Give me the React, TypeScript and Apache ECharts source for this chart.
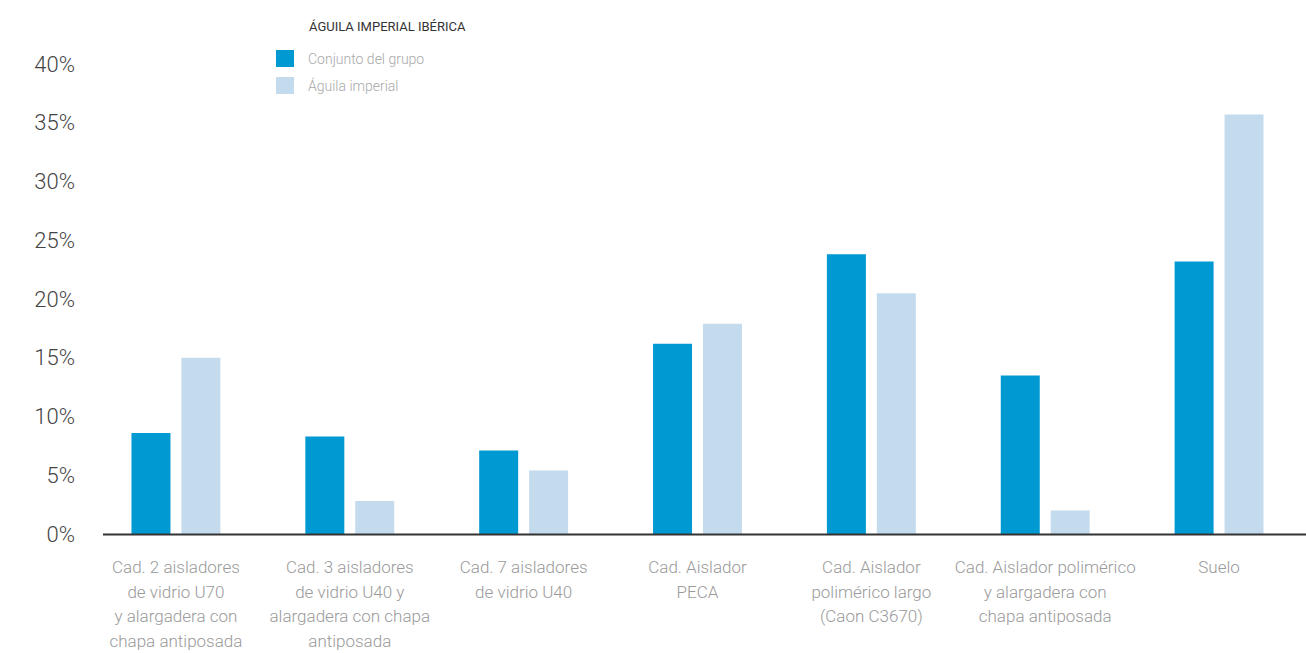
import React, { useEffect, useRef } from "react";
import * as echarts from "echarts";

const categories = [
  "Cad. 2 aisladores\nde vidrio U70\ny alargadera con\nchapa antiposada",
  "Cad. 3 aisladores\nde vidrio U40 y\nalargadera con chapa\nantiposada",
  "Cad. 7 aisladores\nde vidrio U40",
  "Cad. Aislador\nPECA",
  "Cad. Aislador\npolimérico largo\n(Caon C3670)",
  "Cad. Aislador polimérico\ny alargadera con\nchapa antiposada",
  "Suelo",
];
const seriesNames = ["Conjunto del grupo", "Águila imperial"];
const conjuntoValues = [8.6, 8.3, 7.1, 16.2, 23.8, 13.5, 23.2];
const aguilaValues = [15.0, 2.8, 5.4, 17.9, 20.5, 2.0, 35.7];
const legendTitle = "ÁGUILA IMPERIAL IBÉRICA";

const FONT = "Roboto";

export default function App() {
  const ref = useRef<HTMLDivElement>(null);
  useEffect(() => {
    if (!ref.current) return;
    const chart = echarts.init(ref.current, null, { renderer: "svg" });
    chart.setOption({
      animation: false,
      backgroundColor: "#ffffff",
      textStyle: { fontFamily: FONT },
      title: {
        text: legendTitle,
        left: 304,
        top: 15,
        textStyle: { fontFamily: FONT, fontSize: 13, fontWeight: 400, color: "#333333" },
      },
      legend: {
        orient: "vertical",
        left: 276,
        top: 50,
        padding: 0,
        itemWidth: 18,
        itemHeight: 17,
        itemGap: 10,
        icon: "rect",
        data: seriesNames,
        textStyle: {
          fontFamily: FONT,
          fontSize: 14,
          fontWeight: 300,
          color: "#a8a8a8",
          padding: [0, 0, 0, 9],
        },
      },
      grid: { left: 89, width: 1220, top: 64, bottom: 117, containLabel: false },
      xAxis: {
        type: "category",
        data: categories,
        axisLine: { show: false },
        axisTick: { show: false },
        axisLabel: {
          interval: 0,
          margin: 21,
          fontFamily: FONT,
          fontSize: 17,
          fontWeight: 300,
          lineHeight: 24.5,
          color: "#9a9a9a",
          align: "center",
          verticalAlign: "top",
        },
      },
      yAxis: {
        type: "value",
        min: 0,
        max: 40,
        interval: 5,
        axisLine: { show: false },
        axisTick: { show: false },
        splitLine: { show: false },
        axisLabel: {
          formatter: "{value}%",
          margin: 14,
          fontFamily: FONT,
          fontSize: 22,
          fontWeight: 300,
          color: "#444444",
        },
      },
      series: [
        {
          name: seriesNames[0],
          type: "bar",
          data: conjuntoValues,
          barWidth: 39,
          barGap: "28%",
          itemStyle: { color: "#0099d2" },
        },
        {
          name: seriesNames[1],
          type: "bar",
          data: aguilaValues,
          barWidth: 39,
          itemStyle: { color: "#c4dbee" },
        },
      ],
    });
    const y0 = chart.convertToPixel({ yAxisIndex: 0 }, 0) as number;
    chart.setOption({
      graphic: [
        {
          type: "line",
          shape: { x1: 103, y1: y0 + 0.5, x2: 1306, y2: y0 + 0.5 },
          style: { stroke: "#333333", lineWidth: 2 },
          z: 10,
        },
      ],
    });
    return () => chart.dispose();
  }, []);
  return (
    <div
      ref={ref}
      style={{ position: "fixed", left: 0, top: 0, width: 1306, height: 653 }}
    />
  );
}
